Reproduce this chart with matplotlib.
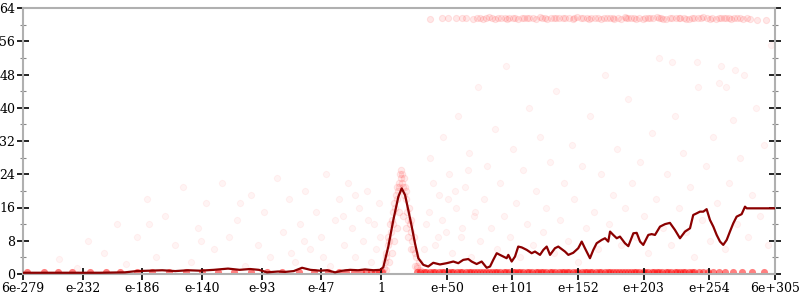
import numpy as np
import matplotlib
matplotlib.use('Agg')
import matplotlib.pyplot as plt

# x axis is the decimal exponent of the input, y is bits of error
line_x = [-278.2, -249.5, -218.4, -199.0, -190, -180, -170, -160, -150, -140.7,
          -130, -119, -110, -101.9, -95, -88.7, -80, -74.7, -68, -61.5,
          -55, -47.6, -42, -35.9, -30, -24.2, -18, -12.6, -6, -0.9,
          1.6, 5.5, 9.4, 13.3, 15.9, 18.5, 21.0, 23.7, 26.2, 28.8,
          32.7, 36.5, 40.4, 45.6, 50.8, 56.0, 59.8, 63.7, 67.6, 70.2,
          74.1, 78.0, 81.9, 84.5, 87.0, 89.7, 92.2, 94.8, 97.4, 98.7,
          101.3, 103.9, 106.4, 109.1, 113.0, 116.8, 119.4, 123.3, 125.9, 128.5,
          131.1, 134.9, 137.5, 142.7, 145.3, 149.1, 153.0, 155.7, 158.2, 162.1,
          164.7, 167.3, 171.2, 173.8, 176.3, 177.7, 180.2, 182.9, 185.4, 189.3,
          191.9, 195.8, 198.4, 201.0, 203.5, 207.4, 210.0, 212.6, 216.5, 220.4,
          224.2, 228.1, 232.0, 235.9, 239.8, 242.3, 245.0, 247.5, 250.1, 252.7,
          255.3, 257.9, 260.5, 263.1, 265.6, 268.3, 270.8, 273.4, 276.0, 279.9,
          282.5, 283.8, 305.8]
line_y = [0.3, 0.3, 0.3, 0.4, 0.7, 0.8, 0.9, 0.7, 0.9, 0.8,
          1.0, 1.3, 1.0, 1.2, 1.0, 0.4, 0.6, 0.5, 0.7, 1.5,
          1.0, 0.8, 0.9, 0.4, 0.8, 1.0, 0.9, 1.1, 0.9, 1.0,
          1.6, 6.6, 13.0, 18.6, 20.6, 19.0, 15.4, 11.4, 7.4, 3.8,
          2.2, 1.8, 2.7, 2.3, 2.6, 3.0, 2.6, 3.4, 3.6, 3.0,
          2.4, 3.0, 1.5, 1.8, 3.4, 5.0, 4.6, 4.2, 3.8, 4.6,
          3.0, 4.2, 6.6, 6.4, 5.8, 5.0, 5.4, 4.6, 5.8, 6.6,
          4.6, 6.2, 6.6, 5.4, 4.6, 5.1, 6.2, 7.8, 6.2, 3.8,
          5.8, 7.4, 8.2, 8.6, 7.8, 10.2, 9.4, 8.6, 9.0, 7.4,
          6.7, 9.8, 9.9, 7.8, 7.0, 9.4, 9.6, 9.4, 11.4, 12.0,
          12.3, 10.6, 8.6, 10.2, 11.0, 14.2, 14.6, 15.0, 15.0, 15.6,
          13.0, 11.4, 9.4, 7.8, 7.0, 8.2, 10.2, 12.2, 13.8, 14.4,
          16.2, 15.8, 15.8]

# scattered sample points
pts_x = [-250, -236, -228, -215, -205, -198, -190, -182, -175, -168,
         -160, -154, -148, -142, -136, -130, -124, -118, -112, -106,
         -101, -96, -91, -86, -81, -76, -72, -67, -63, -59,
         -55, -51, -47, -43, -40, -36, -33, -29, -26, -23,
         -20, -17, -14, -11, -8, -6, -4, -2, -1, -30,
         -70, -110, -140, -180, -60, -20, -45, -10,
         35, 38, 42, 45, 48, 50, 53, 55, 58, 60,
         62, 65, 68, 70, 72, 75, 77, 80, 82, 85,
         88, 90, 92, 95, 97, 100, 102, 105, 108, 110,
         113, 115, 118, 120, 123, 126, 128, 131, 134, 136,
         139, 142, 145, 148, 150, 153, 156, 159, 162, 165,
         168, 171, 174, 177, 180, 183, 186, 189, 192, 195,
         198, 201, 204, 207, 210, 213, 216, 219, 222, 225,
         228, 231, 234, 237, 240, 243, 246, 249, 252, 255,
         258, 261, 264, 267, 270, 273, 276, 279, 282, 285,
         288, 291, 294, 297, 300, 303, 226, 245, 262, 275, 268,
         33, 37, 40, 44, 47, 52, 57, 63, 67, 73]
pts_y = [3.5, 1.5, 8, 5, 12, 2.5, 9, 18, 4, 14,
         7, 21, 3, 11, 17, 6, 22, 9, 13, 2,
         19, 7, 15, 4, 23, 10, 18, 3, 12, 20,
         6, 15, 9, 24, 2, 13, 18, 7, 22, 11,
         4, 16, 8, 20, 3, 12, 6, 17, 9, 14,
         5, 17, 8, 12, 8, 19, 4, 13,
         12, 28, 7, 19, 33, 10, 24, 5, 16, 38,
         9, 21, 29, 4, 14, 45, 8, 18, 26, 11,
         35, 6, 22, 14, 50, 9, 30, 17, 4, 25,
         12, 40, 7, 20, 33, 10, 16, 27, 5, 44,
         13, 22, 8, 31, 18, 3, 26, 11, 38, 15,
         6, 24, 48, 12, 19, 30, 7, 16, 42, 22,
         9, 27, 14, 5, 34, 18, 52, 11, 24, 7,
         38, 16, 29, 10, 21, 4, 45, 13, 26, 8,
         33, 17, 50, 6, 22, 37, 12, 28, 48, 9,
         19, 40, 14, 31, 7, 55, 51, 51, 46, 49, 45,
         6, 15, 22, 9, 13, 18, 20, 11, 25, 15]

# samples around the error spike near 1e15
peak_x = [1, 2, 3, 3.5, 4, 5, 5.5, 6, 7, 7.5, 8, 9, 9.5, 10, 11, 11.5, 12,
          12.5, 13, 13.5, 14, 14.5, 15, 15.5, 16, 16.5, 17, 17.5, 18, 18.5,
          19, 19.5, 20, 21, 21.5, 22, 23, 23.5, 24, 25, 25.5, 26, 27, 28, 29,
          30, 31, 8, 10, 12, 14, 17, 19, 21, 23, 6, 4, 26, 28]
peak_y = [0.5, 1.5, 3, 5, 4, 7, 9, 8, 12, 10, 13, 15, 12, 17, 16, 19, 18,
          21, 20, 22, 21, 24, 23, 25, 22, 24, 21, 23, 19, 21, 18, 20, 15, 13,
          16, 12, 10, 13, 8, 6, 9, 5, 4, 2, 3, 1, 0.8, 5, 8, 11, 15, 14, 11,
          9, 6, 3, 1, 2, 1.5]

# cluster of samples at maximum error
top_x = [38, 47, 52, 58, 63, 66, 71, 74, 77, 79, 81, 84, 86, 88, 91, 93, 96,
         98, 99, 102, 104, 106, 109, 111, 113, 115, 118, 120, 123, 125, 127,
         129, 132, 134, 136, 138, 141, 143, 146, 149, 150, 152, 155, 157, 160,
         161, 163, 166, 168, 171, 173, 175, 178, 180, 181, 184, 186, 189, 190,
         192, 194, 196, 198, 200, 203, 205, 207, 209, 211, 214, 216, 217, 219,
         221, 224, 226, 229, 231, 232, 235, 237, 239, 241, 243, 246, 248, 250,
         253, 255, 257, 260, 262, 264, 266, 268, 270, 272, 274, 276, 279, 281,
         284, 286, 292, 299]
top_y = [61.4, 61.6, 61.5, 61.5, 61.7, 61.7, 61.4, 61.6, 61.6, 61.4, 61.5,
         61.8, 61.6, 61.4, 61.5, 61.6, 61.7, 61.4, 61.5, 61.7, 61.6, 61.4,
         61.5, 61.7, 61.6, 61.5, 61.6, 61.4, 61.8, 61.6, 61.5, 61.4, 61.7,
         61.6, 61.5, 61.7, 61.5, 61.6, 61.6, 61.4, 61.7, 61.8, 61.5, 61.6,
         61.6, 61.4, 61.5, 61.7, 61.7, 61.4, 61.6, 61.6, 61.5, 61.7, 61.4,
         61.6, 61.4, 61.8, 61.5, 61.5, 61.7, 61.6, 61.4, 61.7, 61.4, 61.6,
         61.6, 61.5, 61.5, 61.8, 61.7, 61.6, 61.4, 61.4, 61.7, 61.5, 61.5,
         61.6, 61.7, 61.6, 61.4, 61.4, 61.5, 61.7, 61.5, 61.6, 61.8, 61.6,
         61.4, 61.6, 61.4, 61.5, 61.5, 61.7, 61.7, 61.6, 61.4, 61.6, 61.5,
         61.5, 61.3, 61.5, 61.4, 61.2, 61.0]

# exact samples (zero error)
zero_x = [-275, -262, -251, -240, -226, -214, -203, -190, -178, -165, -152,
          -139, -127, -114, -101, -89, -77, -64, -52, -41, -33, -27, -21, -16,
          -12, -8, -5, -2, 0.5, 28, 30, 33, 35, 38, 40, 42, 45, 47, 49, 52, 54,
          56, 59, 61, 63, 66, 68, 70, 72, 74, 77, 79, 81, 84, 86, 88, 90, 92,
          95, 97, 99, 102, 104, 106, 108, 110, 113, 115, 117, 120, 122, 124,
          126, 128, 131, 133, 135, 138, 140, 142, 144, 146, 149, 151, 153, 156,
          158, 160, 162, 164, 167, 169, 171, 174, 176, 178, 180, 182, 185, 187,
          189, 192, 194, 196, 198, 200, 203, 205, 207, 210, 212, 214, 216, 218,
          221, 223, 225, 228, 230, 232, 234, 236, 239, 241, 243, 247, 250, 254,
          258, 262, 267, 273, 280, 288, 297]
zero_y = [0.4] * len(zero_x)

x_ticks = [-278.2, -231.8, -185.5, -139.1, -92.7, -46.4, 0,
           51.0, 101.9, 152.9, 203.9, 254.8, 305.8]
x_labels = ['6e-279', 'e-232', 'e-186', 'e-140', 'e-93', 'e-47', '1',
            'e+50', 'e+101', 'e+152', 'e+203', 'e+254', '6e+305']
y_ticks = [0, 8, 16, 24, 32, 40, 48, 56, 64]

plt.rcParams['font.family'] = 'DejaVu Serif'

fig = plt.figure(figsize=(8, 3), dpi=100)
ax = fig.add_axes([23 / 800, 26 / 300, 752 / 800, 266 / 300])

ax.scatter(pts_x, pts_y, s=20, color='red', alpha=0.045, linewidths=0.8)
ax.scatter(peak_x, peak_y, s=22, color='red', alpha=0.08, linewidths=0.8)
ax.scatter(top_x, top_y, s=20, color='red', alpha=0.09, linewidths=0.8)
ax.scatter(zero_x, zero_y, s=26, color='red', alpha=0.5, linewidths=0)
ax.plot(line_x, line_y, color='#8b0000', lw=1.6, zorder=3)

ax.set_xlim(-278.2, 305.8)
ax.set_ylim(0, 64)
ax.set_xticks(x_ticks)
ax.set_xticklabels(x_labels, fontsize=9)
ax.set_yticks(y_ticks)
ax.set_yticklabels([str(v) for v in y_ticks], fontsize=9)
ax.set_yticks([4, 12, 20, 28, 36, 44, 52, 60], minor=True)

ax.tick_params(axis='both', which='major', direction='inout', length=8,
               width=1.2, color='black', pad=1.5)
ax.tick_params(axis='y', which='major', right=True)
ax.tick_params(axis='y', which='minor', direction='inout', length=4,
               width=0.8, color='#888888', right=True)

for s in ax.spines.values():
    s.set_color('#b0b0b0')
    s.set_linewidth(1.5)

fig.savefig('out.png', dpi=100)
